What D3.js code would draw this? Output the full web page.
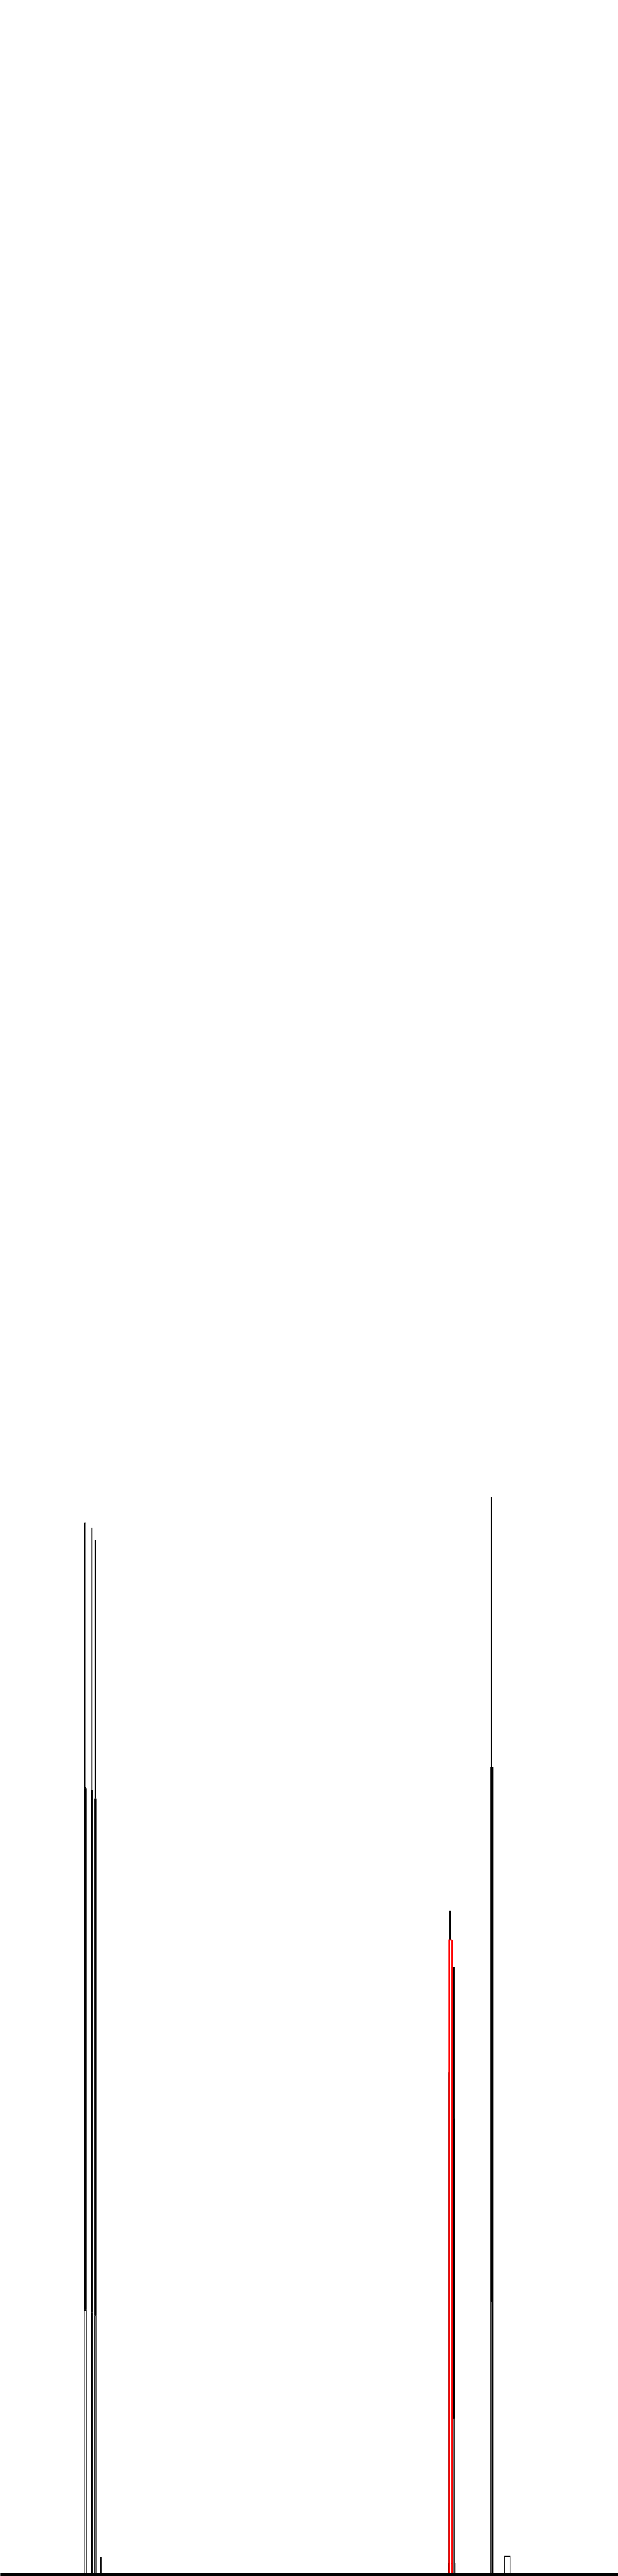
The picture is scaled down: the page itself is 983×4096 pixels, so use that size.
<!DOCTYPE html>
<html>
<head>
<meta charset="utf-8">
<script src="https://cdn.jsdelivr.net/npm/d3@7/dist/d3.min.js"></script>
<style>
  html, body { margin: 0; padding: 0; background: #fff; }
  svg { display: block; }
</style>
</head>
<body>
<svg id="chart"></svg>
<script>
// bar intervals on the x axis and the three stacked parts of each bar
const barStart  = [196, 195, 213, 212, 221, 220, 233, 1044, 1045, 1046, 1045, 1052.5, 1056, 1055, 1144, 1143, 1175];
const barEnd    = [200.7, 201.7, 215.7, 216.7, 223.7, 225, 237, 1061, 1051, 1050.5, 1053, 1056, 1059, 1060, 1147, 1149, 1190];
const barGroup  = ['k', 'k', 'k', 'k', 'k', 'k', 'k', 'k', 'k', 'k', 'r', 'r', 'k', 'k', 'k', 'k', 'k'];
const lowerPart  = [61.6, 61.6, 60.9, 60.9, 60.3, 60.3, 0, 2.6, 116.9, 154.6, 147.9, 147.7, 36.3, 36.3, 63.6, 63.6, 4.3];
const middlePart = [121.5, 121.5, 121.8, 121.8, 120.4, 120.4, 4.1, 0, 0, 0, 0, 0, 69.9, 69.9, 124.5, 124.5, 0];
const upperPart  = [61.9, 0, 61.1, 0, 60.3, 0, 0, 0, 0, 0, 0, 0, 35.2, 0, 62.8, 0, 0];
const partKeys = ['lower', 'middle', 'upper'];

const W = 1440, H = 6000;
const svg = d3.select('#chart')
  .attr('width', 983)
  .attr('height', 4096)
  .attr('viewBox', `0 0 ${W} ${H}`);

const x = d3.scaleLinear().domain([0, 1440]).range([0, W]);
const y = d3.scaleLinear().domain([0, 250]).range([5996, 3496]);
const stroke = d3.scaleOrdinal().domain(['k', 'r']).range(['#000', '#ff0000']);
const strokeW = d3.scaleOrdinal().domain(['k', 'r']).range([2, 2.6]);
const fill = d3.scaleOrdinal().domain(partKeys).range(['#fff', '#000', '#fff']);

const rows = barStart.map((s, i) => ({
  start: s, end: barEnd[i], group: barGroup[i],
  lower: lowerPart[i], middle: middlePart[i], upper: upperPart[i]
}));

const stacked = d3.stack().keys(partKeys)(rows);

// draw bar by bar so overlapping bars keep their order
const bars = svg.selectAll('g.bar')
  .data(rows)
  .enter().append('g')
  .attr('class', 'bar');

bars.each(function (d, i) {
  const g = d3.select(this);
  const sw = strokeW(d.group);
  stacked.forEach(layer => {
    const seg = layer[i];
    if (seg[1] - seg[0] <= 0) return;
    g.append('rect')
      .attr('x', x(d.start) + sw / 2)
      .attr('width', Math.max(0.1, x(d.end) - x(d.start) - sw))
      .attr('y', y(seg[1]) + sw / 2)
      .attr('height', Math.max(0.1, y(seg[0]) - y(seg[1]) - sw))
      .attr('fill', fill(layer.key))
      .attr('stroke', stroke(d.group))
      .attr('stroke-width', sw);
  });
});

// baseline
const axis = svg.append('g')
  .attr('transform', `translate(0,${y(0) + 0.5})`)
  .call(d3.axisBottom(x).tickSize(0).tickFormat(''));
axis.select('.domain').attr('stroke', '#000').attr('stroke-width', 7);
</script>
</body>
</html>
